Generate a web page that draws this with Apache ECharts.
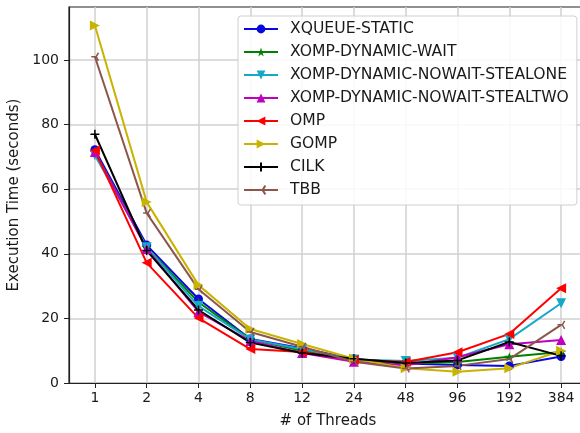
<!DOCTYPE html>
<html>
<head>
<meta charset="utf-8">
<script src="https://cdn.jsdelivr.net/npm/echarts@6/dist/echarts.min.js"></script>
<style>html,body{margin:0;padding:0;background:#fff;}#c{width:580px;height:433px;}</style>
</head>
<body>
<div id="c"></div>
<script>
const threads = ['1','2','4','8','12','24','48','96','192','384'];
const xqueueStatic   = [72.2, 42.7, 26.0, 13.6, 10.8, 7.4, 6.0, 5.6, 5.3, 8.2];
const xompWait       = [71.5, 42.0, 25.0, 13.5, 10.0, 7.3, 6.0, 6.5, 8.1, 9.6];
const xompStealOne   = [70.5, 42.0, 23.8, 13.5, 10.5, 7.3, 6.8, 7.8, 13.6, 24.7];
const xompStealTwo   = [71.5, 41.5, 22.0, 13.0, 9.3, 6.6, 5.5, 8.0, 12.0, 13.3];
const omp            = [72.0, 37.2, 20.1, 10.5, 9.6, 7.2, 6.5, 9.5, 15.2, 29.3];
const gomp           = [110.7, 56.0, 30.3, 16.7, 12.1, 7.5, 4.6, 3.5, 4.6, 10.0];
const cilk           = [77.0, 41.0, 22.6, 12.5, 9.3, 7.5, 6.2, 7.0, 12.7, 8.4];
const tbb            = [101.0, 52.6, 29.0, 15.8, 11.2, 6.6, 4.5, 5.3, 7.4, 18.0];
const seriesNames = ['XQUEUE-STATIC','XOMP-DYNAMIC-WAIT','XOMP-DYNAMIC-NOWAIT-STEALONE','XOMP-DYNAMIC-NOWAIT-STEALTWO','OMP','GOMP','CILK','TBB'];
const yTicks = [0, 20, 40, 60, 80, 100];

const starPath = 'path://M50,0 L61.8,35.1 L98.9,35.1 L68.9,56.8 L80.3,91.9 L50,70.2 L19.7,91.9 L31.1,56.8 L1.1,35.1 L38.2,35.1 Z';
const plusPath = 'path://M5,0L5,10M0,5L10,5';
const triPath = 'path://M6,5L0,5M6,5L9,0M6,5L9,10';

const styles = [
  {data: xqueueStatic, color: '#0808e0', symbol: 'circle', size: 9, rot: 0},
  {data: xompWait, color: '#008000', symbol: starPath, size: 10, rot: 0},
  {data: xompStealOne, color: '#17a8c8', symbol: 'triangle', size: 10, rot: 180},
  {data: xompStealTwo, color: '#bf00bf', symbol: 'triangle', size: 10, rot: 0},
  {data: omp, color: '#ff0000', symbol: 'triangle', size: 10, rot: 90},
  {data: gomp, color: '#c8b400', symbol: 'triangle', size: 10, rot: -90},
  {data: cilk, color: '#000000', symbol: plusPath, size: 9, rot: 0, stroke: true},
  {data: tbb, color: '#8c564b', symbol: triPath, size: 8, rot: 0, stroke: true}
];

const series = styles.map((s, i) => ({
  name: seriesNames[i],
  type: 'line',
  data: s.data,
  symbol: s.symbol,
  symbolSize: s.size,
  symbolRotate: s.rot,
  symbolKeepAspect: true,
  showAllSymbol: true,
  lineStyle: {color: s.color, width: 2},
  itemStyle: s.stroke ? {color: s.color, borderColor: s.color, borderWidth: 1.5} : {color: s.color, borderWidth: 0},
  emphasis: {disabled: true},
  animation: false
}));

const chart = echarts.init(document.getElementById('c'), null, {renderer: 'canvas'});
chart.setOption({
  animation: false,
  backgroundColor: '#ffffff',
  textStyle: {fontFamily: 'DejaVu Sans'},
  grid: {left: 69, top: 7, width: 518, height: 376, show: true, borderColor: '#222', borderWidth: 1.2, containLabel: false, outerBoundsMode: 'none'},
  legend: {
    data: seriesNames,
    orient: 'vertical',
    left: 238, top: 16,
    padding: [5, 8, 7, 5],
    itemWidth: 34, itemHeight: 11, itemGap: 7,
    backgroundColor: 'rgba(255,255,255,0.85)',
    borderColor: '#d0d0d0', borderWidth: 1, borderRadius: 3,
    textStyle: {fontFamily: 'DejaVu Sans', fontSize: 15.6, color: '#1a1a1a', lineHeight: 14, padding: [0, 0, 0, 7]},
    selectedMode: false
  },
  xAxis: {
    type: 'category',
    data: threads,
    boundaryGap: true,
    name: '# of Threads',
    nameLocation: 'middle',
    nameGap: 31,
    nameTextStyle: {fontFamily: 'DejaVu Sans', fontSize: 15, color: '#1a1a1a'},
    axisLine: {show: true, lineStyle: {color: '#222', width: 1.2}},
    axisTick: {show: true, alignWithLabel: true, length: 5, lineStyle: {color: '#222', width: 1}},
    axisLabel: {fontFamily: 'DejaVu Sans', fontSize: 14, color: '#1a1a1a', margin: 8},
    splitLine: {show: true, alignWithLabel: true, lineStyle: {color: '#d0d0d0', width: 1.5}}
  },
  yAxis: {
    type: 'value',
    min: 0, max: 116.4, interval: 20,
    name: 'Execution Time (seconds)',
    nameLocation: 'middle',
    nameGap: 40,
    nameRotate: 90,
    nameTextStyle: {fontFamily: 'DejaVu Sans', fontSize: 15, color: '#1a1a1a'},
    axisLine: {show: true, lineStyle: {color: '#222', width: 1.2}},
    axisTick: {show: true, length: 5, customValues: yTicks, lineStyle: {color: '#222', width: 1}},
    axisLabel: {fontFamily: 'DejaVu Sans', fontSize: 14, color: '#1a1a1a', margin: 10, customValues: yTicks},
    splitLine: {show: true, lineStyle: {color: '#d0d0d0', width: 1.5}}
  },
  series: series
});
</script>
</body>
</html>
